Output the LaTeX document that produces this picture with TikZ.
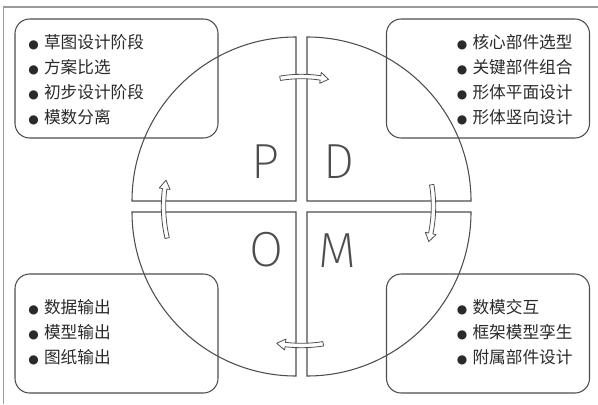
\documentclass[tikz,border=0pt]{standalone}
\usepackage{fontspec}
\setmainfont{Liberation Sans}
\newfontfamily\cjk{Noto Sans CJK SC}
\newfontfamily\dejavu{DejaVu Sans}
\newfontfamily\thinfont{Fira Sans ExtraLight}
\usetikzlibrary{calc}
\definecolor{linegray}{HTML}{4D4D4D}
\definecolor{framegray}{HTML}{9A9A9A}
\definecolor{textgray}{HTML}{2A2A2A}
\newcommand\bul{{\dejavu\fontsize{9}{9}\selectfont ●}\hspace{4pt}}
\newcommand\harrow[3]{%
  \pgfmathsetmacro\ra{#1+2.2}\pgfmathsetmacro\rb{#1-2.2}%
  \pgfmathsetmacro\rc{#1+5.5}\pgfmathsetmacro\rd{#1-5.5}%
  \pgfmathsetmacro\ah{#3+(#2>#3?1:-1)*3.6}%
  \draw[arrowline] ($(C)+(#2:\ra)$) arc[start angle=#2, end angle=\ah, radius=\ra]
    -- ($(C)+(\ah:\rc)$) -- ($(C)+(#3:#1)$) -- ($(C)+(\ah:\rd)$)
    -- ($(C)+(\ah:\rb)$) arc[start angle=\ah, end angle=#2, radius=\rb] -- cycle;}
\begin{document}
\begin{tikzpicture}[x=0.75pt,y=0.75pt,
  quad/.style={draw=linegray, line width=0.8pt},
  box/.style={draw=linegray, line width=0.8pt, rounded corners=11pt,
    minimum width=152.25pt, minimum height=89.25pt, inner sep=0pt},
  item/.style={anchor=west, inner sep=0pt, text=textgray,
    font=\cjk\fontsize{12.5}{15}\selectfont},
  letter/.style={inner sep=0pt, text=linegray, font=\thinfont\fontsize{37}{42}\selectfont},
  arrowline/.style={draw=linegray, line width=0.6pt, fill=white, line join=round},
  frame/.style={draw=framegray, line width=0.8pt}]
\useasboundingbox (0,0) rectangle (598,404);
% frame
\draw[frame] (3.5,0) -- (3.5,397) -- (598,397);
% quadrants
\draw[quad] (296,203) -- (296,367) arc[start angle=90, end angle=180, radius=164] -- cycle;
\draw[quad] (307,203) -- (471,203) arc[start angle=0, end angle=90, radius=164] -- cycle;
\draw[quad] (296,192) -- (132,192) arc[start angle=180, end angle=270, radius=164] -- cycle;
\draw[quad] (307,192) -- (307,28) arc[start angle=270, end angle=360, radius=164] -- cycle;
% letters
\node[letter] (P) at (265.5,242.5) {P};
\node[letter] (D) at (338.5,242.5) {D};
\node[letter] (O) at (266.5,154) {O};
\node[letter] (M) at (337,153.5) {M};
% arrows
\coordinate (C) at (301.5,197.5);
\harrow{130}{99.5}{78}
\harrow{132}{9.5}{-15.4}
\harrow{139}{279}{259.7}
\harrow{138}{193.2}{169}
% boxes
\node[box] (tlbox) at (116.5,325.5) {};
\node[box] (trbox) at (488,325.5) {};
\node[box] (blbox) at (116.5,70.5) {};
\node[box] (brbox) at (488,70.5) {};
% texts
\node[item] (tl1) at (28,362) {\bul 草图设计阶段};
\node[item] (tl2) at (28,336.5) {\bul 方案比选};
\node[item] (tl3) at (28,311.5) {\bul 初步设计阶段};
\node[item] (tl4) at (28,286.5) {\bul 模数分离};
\node[item] (tr1) at (456.5,362) {\bul 核心部件选型};
\node[item] (tr2) at (456.5,336.5) {\bul 关键部件组合};
\node[item] (tr3) at (456.5,311.5) {\bul 形体平面设计};
\node[item] (tr4) at (456.5,286.5) {\bul 形体竖向设计};
\node[item] (bl1) at (28,97) {\bul 数据输出};
\node[item] (bl2) at (28,72) {\bul 模型输出};
\node[item] (bl3) at (28,47) {\bul 图纸输出};
\node[item] (br1) at (456.5,97) {\bul 数模交互};
\node[item] (br2) at (456.5,72) {\bul 框架模型孪生};
\node[item] (br3) at (456.5,47) {\bul 附属部件设计};
\end{tikzpicture}
\end{document}
